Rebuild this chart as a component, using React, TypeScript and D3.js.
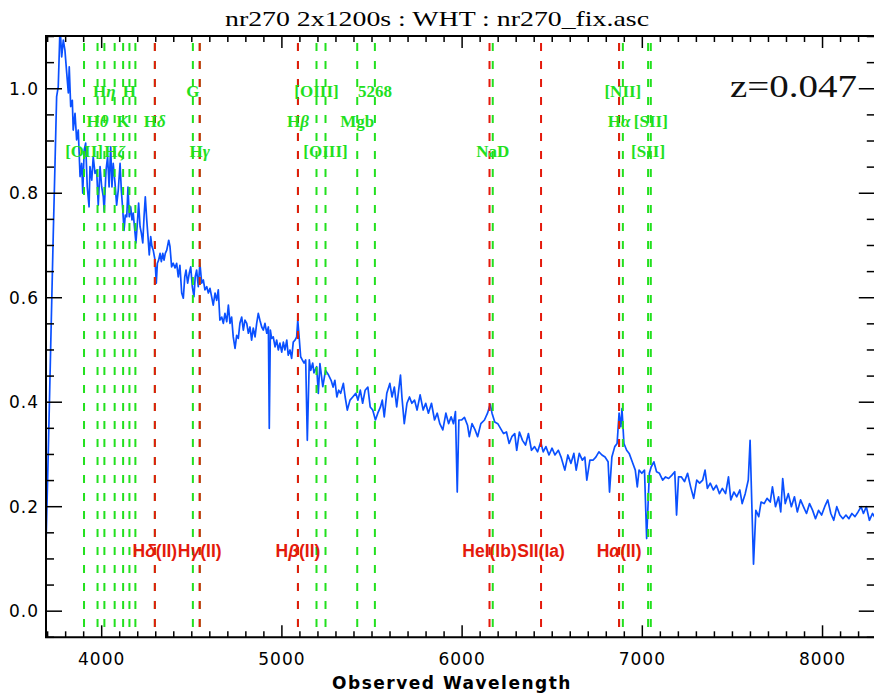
import { useEffect, useRef } from "react";
import * as d3 from "d3";

// observed wavelength (A), normalised flux
const spectrum: [number, number][] = [
  [3691, 0.126], [3704, 0.31], [3731, 0.717], [3741, 0.857], [3750, 0.985], [3759, 1.004],
  [3769, 1.12], [3778, 1.061], [3787, 1.093], [3796, 1.074], [3806, 1.03], [3815, 0.992],
  [3820, 1.042], [3828, 0.966], [3837, 0.978], [3842, 0.921], [3852, 0.953], [3861, 0.902],
  [3870, 0.921], [3880, 0.832], [3889, 0.857], [3895, 0.8], [3903, 0.883], [3911, 0.896],
  [3920, 0.812], [3930, 0.774], [3935, 0.851], [3945, 0.825], [3953, 0.87], [3963, 0.838],
  [3972, 0.844], [3981, 0.777], [3991, 0.851], [4000, 0.812], [4009, 0.793], [4014, 0.765],
  [4024, 0.844], [4033, 0.87], [4041, 0.812], [4050, 0.889], [4057, 0.812], [4064, 0.857],
  [4074, 0.819], [4083, 0.777], [4092, 0.806], [4102, 0.857], [4109, 0.806], [4117, 0.768],
  [4124, 0.729], [4131, 0.758], [4139, 0.755], [4146, 0.812], [4153, 0.755], [4161, 0.774],
  [4168, 0.749], [4175, 0.762], [4185, 0.724], [4190, 0.705], [4198, 0.743], [4205, 0.781],
  [4213, 0.736], [4220, 0.724], [4228, 0.705], [4235, 0.755], [4242, 0.793], [4250, 0.749],
  [4257, 0.717], [4264, 0.682], [4272, 0.717], [4279, 0.698], [4286, 0.691], [4296, 0.672],
  [4303, 0.628], [4309, 0.666], [4316, 0.672], [4324, 0.685], [4331, 0.669], [4339, 0.685],
  [4346, 0.672], [4353, 0.685], [4361, 0.691], [4372, 0.71], [4379, 0.698], [4388, 0.659],
  [4397, 0.666], [4407, 0.657], [4416, 0.666], [4425, 0.64], [4434, 0.662], [4444, 0.609],
  [4453, 0.599], [4461, 0.64], [4468, 0.653], [4477, 0.628], [4486, 0.647], [4494, 0.659],
  [4503, 0.621], [4512, 0.602], [4519, 0.64], [4527, 0.653], [4536, 0.621], [4545, 0.666],
  [4555, 0.628], [4564, 0.634], [4573, 0.615], [4583, 0.621], [4592, 0.609], [4601, 0.618],
  [4610, 0.602], [4619, 0.586], [4629, 0.609], [4638, 0.595], [4647, 0.615], [4656, 0.557],
  [4666, 0.563], [4675, 0.551], [4684, 0.57], [4694, 0.554], [4703, 0.586], [4712, 0.551],
  [4721, 0.563], [4730, 0.525], [4740, 0.503], [4749, 0.528], [4758, 0.522], [4767, 0.551],
  [4777, 0.563], [4786, 0.538], [4795, 0.557], [4805, 0.551], [4814, 0.532], [4823, 0.544],
  [4832, 0.519], [4841, 0.542], [4851, 0.525], [4860, 0.551], [4869, 0.57], [4878, 0.557],
  [4888, 0.544], [4897, 0.538], [4906, 0.551], [4916, 0.532], [4925, 0.544], [4930, 0.35],
  [4936, 0.538], [4943, 0.522], [4952, 0.525], [4962, 0.506], [4971, 0.519], [4980, 0.5],
  [4989, 0.513], [4999, 0.496], [5008, 0.515], [5017, 0.5], [5027, 0.519], [5035, 0.49],
  [5045, 0.5], [5054, 0.484], [5063, 0.515], [5073, 0.519], [5082, 0.525], [5088, 0.557],
  [5095, 0.528], [5104, 0.487], [5113, 0.481], [5123, 0.475], [5132, 0.481], [5141, 0.327],
  [5152, 0.481], [5160, 0.461], [5171, 0.475], [5178, 0.456], [5193, 0.468], [5202, 0.417],
  [5211, 0.474], [5227, 0.43], [5242, 0.461], [5259, 0.452], [5273, 0.442], [5284, 0.429],
  [5294, 0.442], [5305, 0.41], [5315, 0.423], [5326, 0.417], [5341, 0.436], [5351, 0.41],
  [5363, 0.385], [5378, 0.404], [5393, 0.41], [5410, 0.417], [5422, 0.404], [5435, 0.423],
  [5448, 0.398], [5462, 0.423], [5477, 0.429], [5490, 0.391], [5504, 0.385], [5519, 0.366],
  [5532, 0.379], [5547, 0.391], [5557, 0.404], [5568, 0.372], [5582, 0.417], [5599, 0.436],
  [5611, 0.41], [5624, 0.429], [5637, 0.391], [5648, 0.423], [5658, 0.452], [5666, 0.41],
  [5679, 0.359], [5694, 0.398], [5708, 0.41], [5721, 0.398], [5736, 0.404], [5750, 0.385],
  [5767, 0.414], [5784, 0.385], [5798, 0.398], [5813, 0.379], [5830, 0.398], [5847, 0.366],
  [5862, 0.379], [5876, 0.359], [5893, 0.347], [5910, 0.379], [5925, 0.359], [5939, 0.372],
  [5952, 0.359], [5963, 0.382], [5973, 0.228], [5982, 0.366], [5998, 0.366], [6013, 0.371],
  [6030, 0.356], [6040, 0.334], [6055, 0.359], [6072, 0.347], [6086, 0.334], [6104, 0.359],
  [6124, 0.366], [6141, 0.379], [6156, 0.396], [6166, 0.379], [6181, 0.362], [6198, 0.359],
  [6213, 0.35], [6230, 0.34], [6246, 0.343], [6261, 0.321], [6276, 0.334], [6292, 0.34],
  [6303, 0.308], [6318, 0.343], [6335, 0.327], [6352, 0.318], [6368, 0.34], [6385, 0.308],
  [6402, 0.315], [6419, 0.305], [6436, 0.324], [6450, 0.305], [6465, 0.315], [6482, 0.299],
  [6499, 0.312], [6515, 0.299], [6534, 0.308], [6549, 0.295], [6570, 0.27], [6587, 0.299],
  [6604, 0.283], [6620, 0.302], [6633, 0.27], [6650, 0.302], [6667, 0.289], [6681, 0.295],
  [6692, 0.251], [6709, 0.289], [6726, 0.289], [6742, 0.295], [6759, 0.305], [6776, 0.299],
  [6793, 0.295], [6810, 0.286], [6818, 0.228], [6831, 0.295], [6847, 0.315], [6860, 0.321],
  [6871, 0.379], [6881, 0.353], [6887, 0.388], [6898, 0.321], [6913, 0.308], [6927, 0.302],
  [6944, 0.286], [6961, 0.27], [6972, 0.238], [6982, 0.27], [6997, 0.264], [7012, 0.27],
  [7024, 0.139], [7039, 0.264], [7049, 0.276], [7064, 0.286], [7079, 0.267], [7095, 0.264],
  [7113, 0.251], [7129, 0.257], [7146, 0.254], [7163, 0.26], [7180, 0.267], [7190, 0.184],
  [7201, 0.257], [7217, 0.257], [7234, 0.248], [7251, 0.264], [7268, 0.238], [7285, 0.216],
  [7302, 0.251], [7318, 0.245], [7335, 0.251], [7348, 0.27], [7361, 0.235], [7377, 0.245],
  [7394, 0.232], [7411, 0.241], [7428, 0.225], [7444, 0.235], [7462, 0.225], [7478, 0.257],
  [7491, 0.213], [7508, 0.228], [7524, 0.219], [7541, 0.232], [7554, 0.206], [7571, 0.225],
  [7588, 0.251], [7598, 0.327], [7609, 0.187], [7617, 0.09], [7630, 0.193], [7646, 0.181],
  [7659, 0.209], [7676, 0.206], [7692, 0.216], [7710, 0.209], [7722, 0.238], [7739, 0.2],
  [7756, 0.219], [7768, 0.19], [7779, 0.254], [7793, 0.206], [7810, 0.225], [7827, 0.2],
  [7844, 0.219], [7860, 0.19], [7878, 0.213], [7894, 0.2], [7911, 0.187], [7928, 0.206],
  [7945, 0.193], [7961, 0.177], [7978, 0.193], [7995, 0.184], [8012, 0.2], [8029, 0.213],
  [8046, 0.187], [8062, 0.174], [8079, 0.2], [8096, 0.184], [8113, 0.177], [8130, 0.184],
  [8146, 0.177], [8163, 0.187], [8180, 0.181], [8197, 0.19], [8214, 0.2], [8227, 0.187],
  [8243, 0.2], [8260, 0.174], [8277, 0.187], [8290, 0.18],
];

// galaxy features at z=0.047 (green)
const galaxyLines = [
  3902, 3977, 4015, 4072, 4119, 4154, 4187, 4295, 4506, 4544, 5089, 5192, 5242,
  5418, 5516, 6170, 6871, 6892, 7032, 7047,
];
const galaxyLabels = [
  { text: "Hη", wave: 4015, row: 0 },
  { text: "H", wave: 4154, row: 0 },
  { text: "G", wave: 4506, row: 0 },
  { text: "[OIII]", wave: 5192, row: 0 },
  { text: "5268", wave: 5516, row: 0 },
  { text: "[NII]", wave: 6892, row: 0 },
  { text: "Hθ", wave: 3977, row: 1 },
  { text: "K", wave: 4119, row: 1 },
  { text: "Hδ", wave: 4295, row: 1 },
  { text: "Hβ", wave: 5089, row: 1 },
  { text: "Mgb", wave: 5418, row: 1 },
  { text: "Hα", wave: 6871, row: 1 },
  { text: "[SII]", wave: 7047, row: 1 },
  { text: "[OII]", wave: 3902, row: 2 },
  { text: "Hζ", wave: 4072, row: 2 },
  { text: "Hγ", wave: 4544, row: 2 },
  { text: "[OIII]", wave: 5242, row: 2 },
  { text: "NaD", wave: 6170, row: 2 },
  { text: "[SII]", wave: 7032, row: 2 },
];

// broad / SN features (red)
const broadLines = [4295, 4544, 5089, 6152, 6438, 6871];
const broadLabels = ["Hδ(II)", "Hγ(II)", "Hβ(II)", "HeI(Ib)", "SII(Ia)", "Hα(II)"];

const xMajorTicks = [4000, 5000, 6000, 7000, 8000];
const yMajorTicks = [0.0, 0.2, 0.4, 0.6, 0.8, 1.0];

const GREEN = "#22e01e";
const RED = "#e41a0c";
const BLUE = "#0a50ff";

export default function App() {
  const svgRef = useRef<SVGSVGElement>(null);

  useEffect(() => {
    if (!svgRef.current) return;
    const svg = d3.select(svgRef.current);
    svg.selectAll("*").remove();

    const left = 46;
    const right = 874.8;
    const top = 36;
    const bottom = 637.3;

    const x = d3.scaleLinear().domain([3691, 8290]).range([left, right]);
    const y = d3.scaleLinear().domain([-0.05, 1.101]).range([bottom, top]);

    svg
      .append("defs")
      .append("clipPath")
      .attr("id", "plot-clip")
      .append("rect")
      .attr("x", left)
      .attr("y", top)
      .attr("width", right - left)
      .attr("height", bottom - top);

    // spectrum
    const line = d3
      .line<[number, number]>()
      .x((d) => x(d[0]))
      .y((d) => y(d[1]));

    svg
      .append("path")
      .datum(spectrum)
      .attr("clip-path", "url(#plot-clip)")
      .attr("d", line)
      .attr("fill", "none")
      .attr("stroke", BLUE)
      .attr("stroke-width", 1.7)
      .attr("stroke-linejoin", "round");

    // line markers
    const drawMarkers = (waves: number[], color: string) =>
      svg
        .append("g")
        .selectAll("line")
        .data(waves)
        .enter()
        .append("line")
        .attr("x1", (d) => x(d))
        .attr("x2", (d) => x(d))
        .attr("y1", top)
        .attr("y2", bottom)
        .attr("stroke", color)
        .attr("stroke-width", 2)
        .attr("stroke-dasharray", "8,10")
        .attr("stroke-dashoffset", 11);

    drawMarkers(galaxyLines, GREEN);
    drawMarkers(broadLines, RED);

    const rowY = [97, 127, 157];
    const isGreek = (s: string) => s.startsWith("H") && s.length === 2;
    const gl = svg
      .append("g")
      .selectAll("text")
      .data(galaxyLabels)
      .enter()
      .append("text")
      .attr("x", (d) => x(d.wave))
      .attr("y", (d) => rowY[d.row])
      .attr("text-anchor", "middle")
      .attr("fill", GREEN)
      .attr("font-family", "'Liberation Serif', 'Times New Roman', serif")
      .attr("font-weight", "bold")
      .attr("font-size", "17px");
    gl.append("tspan").text((d) => (isGreek(d.text) ? "H" : d.text));
    gl.filter((d) => isGreek(d.text))
      .append("tspan")
      .attr("font-style", "italic")
      .text((d) => d.text.slice(1));

    const bl = svg
      .append("g")
      .selectAll("text")
      .data(broadLabels)
      .enter()
      .append("text")
      .attr("x", (_, i) => x(broadLines[i]))
      .attr("y", 557)
      .attr("text-anchor", "middle")
      .attr("fill", RED)
      .attr("font-family", "'Liberation Sans', Arial, sans-serif")
      .attr("font-weight", "bold")
      .attr("font-size", "17.5px");
    bl.each(function (d) {
      const t = d3.select(this);
      const m = /^H([αβγδ])(.*)$/.exec(d);
      if (m) {
        t.append("tspan").text("H");
        t.append("tspan").attr("font-style", "italic").text(m[1]);
        t.append("tspan").text(m[2]);
      } else {
        t.text(d);
      }
    });

    // frame
    const axisColor = "#000";
    svg
      .append("path")
      .attr("d", `M${right},${top}H${left}V${bottom}H${right}`)
      .attr("fill", "none")
      .attr("stroke", axisColor)
      .attr("stroke-width", 2);

    // x ticks (bottom and top): minor every 100, major every 1000
    const xt = svg.append("g").attr("stroke", axisColor).attr("stroke-width", 1.5);
    d3.range(3700, 8291, 100).forEach((t) => {
      const len = t % 1000 === 0 ? 12 : 6;
      xt.append("line").attr("x1", x(t)).attr("x2", x(t)).attr("y1", bottom).attr("y2", bottom - len);
      xt.append("line").attr("x1", x(t)).attr("x2", x(t)).attr("y1", top).attr("y2", top + len);
    });

    // y ticks (left and right): minor every 0.05, major every 0.2
    const yt = svg.append("g").attr("stroke", axisColor).attr("stroke-width", 1.5);
    d3.range(-1, 23).forEach((k) => {
      const t = k * 0.05;
      const len = k % 4 === 0 ? 16 : 8;
      yt.append("line").attr("x1", left).attr("x2", left + len).attr("y1", y(t)).attr("y2", y(t));
      yt.append("line").attr("x1", right).attr("x2", right - len).attr("y1", y(t)).attr("y2", y(t));
    });

    // tick labels
    const tickFont = "'DejaVu Sans', Verdana, sans-serif";
    svg
      .append("g")
      .selectAll("text")
      .data(xMajorTicks)
      .enter()
      .append("text")
      .attr("x", (d) => x(d))
      .attr("y", 665)
      .attr("text-anchor", "middle")
      .attr("font-family", tickFont)
      .attr("font-size", "17px")
      .attr("letter-spacing", "1px")
      .attr("fill", "#000")
      .text((d) => String(d));

    svg
      .append("g")
      .selectAll("text")
      .data(yMajorTicks)
      .enter()
      .append("text")
      .attr("x", 39)
      .attr("y", (d) => y(d) + 6)
      .attr("text-anchor", "end")
      .attr("font-family", tickFont)
      .attr("font-size", "17px")
      .attr("letter-spacing", "1px")
      .attr("fill", "#000")
      .text((d) => d.toFixed(1));

    // axis title
    svg
      .append("text")
      .attr("x", 452)
      .attr("y", 689)
      .attr("text-anchor", "middle")
      .attr("font-family", tickFont)
      .attr("font-weight", "bold")
      .attr("font-size", "17px")
      .attr("letter-spacing", "1.5px")
      .attr("fill", "#000")
      .text("Observed Wavelength");

    // title
    svg
      .append("text")
      .attr("x", 225)
      .attr("y", 26)
      .attr("font-family", "'Liberation Serif', 'Times New Roman', serif")
      .attr("font-size", "22px")
      .attr("textLength", 424)
      .attr("lengthAdjust", "spacingAndGlyphs")
      .attr("fill", "#000")
      .text("nr270 2x1200s : WHT : nr270_fix.asc");

    // redshift
    svg
      .append("text")
      .attr("x", 730)
      .attr("y", 97)
      .attr("font-family", "'Liberation Serif', 'Times New Roman', serif")
      .attr("font-size", "31px")
      .attr("textLength", 127)
      .attr("lengthAdjust", "spacingAndGlyphs")
      .attr("fill", "#111")
      .text("z=0.047");
  }, []);

  return (
    <svg
      ref={svgRef}
      width={874}
      height={695}
      style={{ position: "absolute", left: 0, top: 0, background: "#fff" }}
      role="img"
      aria-label="Spectrum of nr270 versus observed wavelength"
    />
  );
}
